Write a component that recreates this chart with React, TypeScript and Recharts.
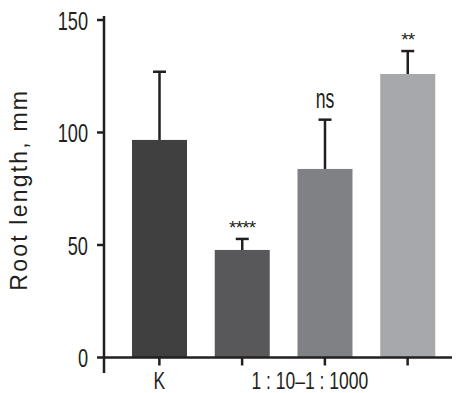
import React from "react";
import { BarChart, Bar, XAxis, YAxis, Cell, usePlotArea } from "recharts";

const groups = ["K", "1:10", "1:100", "1:1000"];
const tickLabels = ["K", "", "1 : 10\u20131 : 1000", ""];
const means = [96.7, 47.8, 83.8, 126.0];
const errors = [30.3, 4.9, 21.9, 10.2];
const significance = ["", "****", "ns", "**"];
const barColors = ["#404040", "#58585a", "#808184", "#a7a8ab"];
const yTicks = [0, 50, 100, 150];

const data = groups.map((g, i) => ({
    group: g,
    mean: means[i],
    err: errors[i],
    sig: significance[i],
}));

const INK = "#231f20";
const SANS = "'Liberation Sans', Arial, sans-serif";

// bar + upward error whisker + significance mark
const BarWithError = (props: any): React.ReactElement => {
    const { x, y, width, height, fill, payload } = props;
    const perUnit = height / payload.mean;
    const top = y - payload.err * perUnit;
    const cx = x + width / 2;
    const stars = payload.sig.startsWith("*");
    return (
        <g>
            <rect x={x} y={y} width={width} height={height} fill={fill} />
            <line x1={cx} x2={cx} y1={y} y2={top} stroke={INK} strokeWidth={2.5} />
            <line x1={cx - 6.5} x2={cx + 6.5} y1={top} y2={top} stroke={INK} strokeWidth={2.5} />
            {payload.sig && stars && (
                <text
                    x={cx}
                    y={top - 5}
                    textAnchor="middle"
                    fontFamily={SANS}
                    fontSize={19}
                    letterSpacing={-0.8}
                    fill={INK}
                >
                    {payload.sig}
                </text>
            )}
            {payload.sig && !stars && (
                <text
                    transform={`translate(${cx} ${top - 11.5}) scale(0.63 1)`}
                    textAnchor="middle"
                    fontFamily={SANS}
                    fontSize={28}
                    fill={INK}
                >
                    {payload.sig}
                </text>
            )}
        </g>
    );
};

const YTick = (props: any): React.ReactElement => {
    const { x, y, payload } = props;
    return (
        <text
            transform={`translate(${x} ${y + 9.5}) scale(0.7 1)`}
            textAnchor="end"
            fontFamily={SANS}
            fontSize={26}
            fill={INK}
        >
            {payload.value}
        </text>
    );
};

const XTick = (props: any): React.ReactElement | null => {
    const { x, y, payload } = props;
    const label = tickLabels[payload.index];
    if (!label) return null;
    const shift = payload.index === 0 ? 0 : -15;
    return (
        <text
            transform={`translate(${x + shift} ${y + 21}) scale(0.73 1)`}
            textAnchor="middle"
            fontFamily={SANS}
            fontSize={24}
            fill={INK}
        >
            {label}
        </text>
    );
};

// y axis line runs past the plot (GraphPad style) + axis title
const AxisFrame = (): React.ReactElement | null => {
    const plot = usePlotArea();
    if (!plot) return null;
    const midY = plot.y + plot.height / 2 + 1;
    const lx = plot.x - 77.5;
    return (
        <g>
            <line
                x1={plot.x}
                x2={plot.x}
                y1={plot.y - 4}
                y2={plot.y + plot.height + 15.5}
                stroke={INK}
                strokeWidth={2.5}
            />
            <text
                x={lx}
                y={midY}
                transform={`rotate(-90 ${lx} ${midY})`}
                textAnchor="middle"
                fontFamily={SANS}
                fontSize={23}
                letterSpacing={2.2}
                fill={INK}
            >
                Root length, mm
            </text>
        </g>
    );
};

export default function App(): React.ReactElement {
    return (
        <div style={{ position: "absolute", left: 0, top: 0, background: "#fff" }}>
            <BarChart
                width={466}
                height={393}
                data={data}
                margin={{ top: 20, right: 14, left: 0, bottom: 0 }}
                barSize={55}
            >
                <XAxis
                    dataKey="group"
                    height={35.5}
                    padding={{ left: 14, right: 3 }}
                    axisLine={{ stroke: INK, strokeWidth: 2.5 }}
                    tickLine={{ stroke: INK, strokeWidth: 2.5 }}
                    tickSize={8}
                    tickMargin={2}
                    tick={<XTick />}
                    interval={0}
                />
                <YAxis
                    type="number"
                    domain={[0, 150]}
                    ticks={yTicks}
                    width={104}
                    axisLine={false}
                    tickLine={{ stroke: INK, strokeWidth: 2.5 }}
                    tickSize={7}
                    tickMargin={9}
                    tick={<YTick />}
                />
                <Bar dataKey="mean" isAnimationActive={false} shape={<BarWithError />}>
                    {data.map((d, i) => (
                        <Cell key={d.group} fill={barColors[i]} />
                    ))}
                </Bar>
                <AxisFrame />
            </BarChart>
        </div>
    );
}
